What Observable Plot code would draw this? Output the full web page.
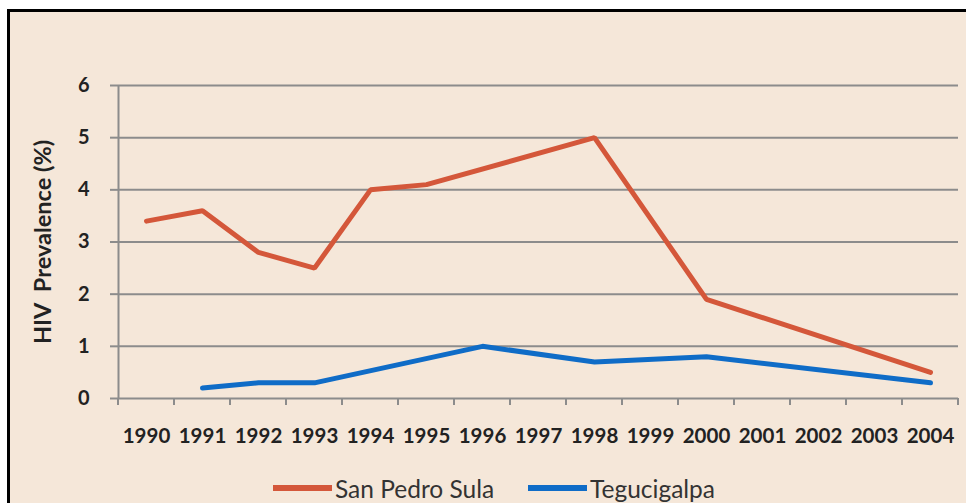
<!DOCTYPE html>
<html>
<head>
<meta charset="utf-8">
<script src="https://cdn.jsdelivr.net/npm/d3@7"></script>
<script src="https://cdn.jsdelivr.net/npm/@observablehq/plot@0.6"></script>
<style>
  html, body { margin: 0; padding: 0; background: #ffffff; }
  #page { position: relative; width: 966px; height: 503px; overflow: hidden; background: #fff; }
  #panel { position: absolute; left: 7px; top: 9px; width: 980px; height: 520px;
           border-left: 3px solid #000; border-top: 3px solid #000; background: #F5E7D9; }
  #chart { position: absolute; left: 0; top: 0; }
  #legend { position: absolute; top: 473px; left: 0; width: 966px; height: 30px;
            font-family: Lato, "Open Sans", sans-serif; font-size: 24.5px; color: #333; }
  .item { position: absolute; top: 0; display: flex; align-items: center; height: 30px; }
  .sw { width: 59px; height: 6px; margin-right: 3px; }
</style>
</head>
<body>
<div id="page">
  <div id="panel"></div>
  <div id="chart"></div>
  <div id="legend"></div>
</div>
<script>
const years = ["1990","1991","1992","1993","1994","1995","1996","1997","1998","1999","2000","2001","2002","2003","2004"];
const seriesNames = ["San Pedro Sula", "Tegucigalpa"];
const seriesColors = ["#D4573A", "#0F6CC7"];
const sanPedroYears = ["1990","1991","1992","1993","1994","1995","1998","2000","2004"];
const sanPedroValues = [3.4, 3.6, 2.8, 2.5, 4.0, 4.1, 5.0, 1.9, 0.5];
const teguYears = ["1991","1992","1993","1996","1998","2000","2004"];
const teguValues = [0.2, 0.3, 0.3, 1.0, 0.7, 0.8, 0.3];
const yTicks = [0, 1, 2, 3, 4, 5, 6];

const data = [
  ...sanPedroYears.map((y, i) => ({year: y, value: sanPedroValues[i], series: seriesNames[0]})),
  ...teguYears.map((y, i) => ({year: y, value: teguValues[i], series: seriesNames[1]}))
];

const W = 966, H = 460, ML = 118, MR = 8, MT = 85, MB = 62;
const step = (W - ML - MR) / years.length;

const chart = Plot.plot({
  width: W, height: H,
  marginLeft: ML, marginRight: MR, marginTop: MT, marginBottom: MB,
  style: {background: "transparent", fontFamily: "Lato, 'Open Sans', sans-serif", whiteSpace: "pre"},
  x: {type: "point", domain: years, padding: 0.5},
  y: {domain: [0, 6]},
  color: {domain: seriesNames, range: seriesColors},
  marks: [
    Plot.ruleY(yTicks, {stroke: "#8C8C8C", strokeWidth: 2}),
    Plot.axisY(yTicks, {tickSize: 8, tickPadding: 21, tickFormat: d3.format("d"), stroke: "#8C8C8C", strokeWidth: 2,
      fontSize: 20, fontWeight: "bold", fill: "#222",
      label: "HIV  Prevalence (%)", labelAnchor: "center", labelArrow: "none", labelOffset: 84}),
    Plot.ruleX([years[0]], {dx: -step / 2, y1: 0, y2: 6, stroke: "#8C8C8C", strokeWidth: 2}),
    Plot.axisX({tickSize: 0, tickPadding: 30, fontSize: 20.5, fontWeight: "bold", fill: "#222", label: null}),
    Plot.line(data, {x: "year", y: "value", z: "series", stroke: "series", strokeWidth: 5,
      strokeLinejoin: "miter", strokeLinecap: "round"})
  ]
});
document.getElementById("chart").appendChild(chart);

// y-axis label a bit larger
d3.select(chart).selectAll("g[aria-label='y-axis label'] text").attr("font-size", 23.5).attr("font-weight", "bold");

// tick marks below the x axis between categories
const sx = chart.scale("x"), sy = chart.scale("y");
const svg = d3.select(chart);
const y0 = sy.apply(0);
const g = svg.append("g").attr("stroke", "#8C8C8C").attr("stroke-width", 2);
[...years, null].forEach((yr) => {
  const x = yr ? sx.apply(yr) - step / 2 : sx.apply(years[years.length - 1]) + step / 2;
  g.append("line").attr("x1", x).attr("x2", x).attr("y1", y0).attr("y2", y0 + 7);
});

const legend = document.getElementById("legend");
const lefts = [273, 528];
seriesNames.forEach((n, i) => {
  const it = document.createElement("div");
  it.className = "item";
  it.style.left = lefts[i] + "px";
  it.innerHTML = `<div class="sw" style="background:${seriesColors[i]}"></div><span>${n}</span>`;
  legend.appendChild(it);
});
</script>
</body>
</html>
